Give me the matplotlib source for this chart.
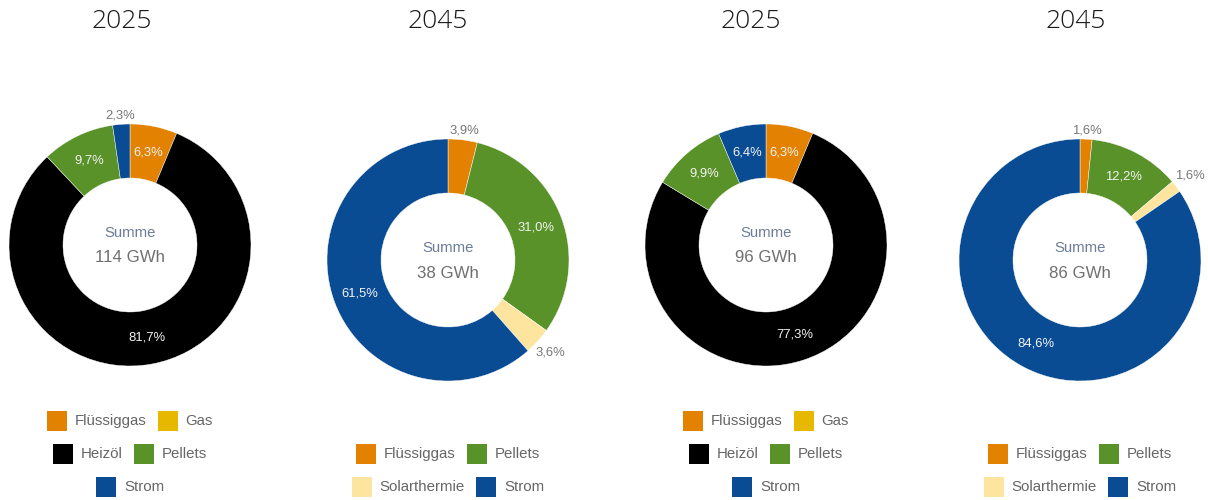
import matplotlib
matplotlib.use("Agg")
import matplotlib.pyplot as plt
from matplotlib.patches import Rectangle
import numpy as np

W, H = 1208, 500

# ---- data -------------------------------------------------------------
titles = ["2025", "2045", "2025", "2045"]
totals_gwh = [114, 38, 96, 86]

cats_today = ["Flüssiggas", "Gas", "Heizöl", "Pellets", "Strom"]
cats_future = ["Flüssiggas", "Pellets", "Solarthermie", "Strom"]

share_1 = [6.3, 0.0, 81.7, 9.7, 2.3]      # 2025, left
share_2 = [3.9, 31.0, 3.6, 61.5]          # 2045, left
share_3 = [6.3, 0.0, 77.3, 9.9, 6.4]      # 2025, right
share_4 = [1.6, 12.2, 1.6, 84.6]          # 2045, right

legend_today = [["Flüssiggas", "Gas"], ["Heizöl", "Pellets"], ["Strom"]]
legend_future = [["Flüssiggas", "Pellets"], ["Solarthermie", "Strom"]]

colors = {
    "Flüssiggas": "#E38100",
    "Gas": "#E6B800",
    "Heizöl": "#000000",
    "Pellets": "#5A922A",
    "Strom": "#0A4C94",
    "Solarthermie": "#FDE5A0",
}

charts = [
    (cats_today, share_1, legend_today),
    (cats_future, share_2, legend_future),
    (cats_today, share_3, legend_today),
    (cats_future, share_4, legend_future),
]

# ---- layout (pixel coordinates, y measured from top) -------------------
centers = [(130, 245), (448, 260), (766, 245), (1080, 260)]
title_x = [122, 438, 751, 1076]
r_out, r_in = 121, 67

fig = plt.figure(figsize=(W / 100, H / 100), dpi=100)
ax = fig.add_axes([0, 0, 1, 1])

def Y(y):
    return H - y

label_font = dict(family=["Liberation Sans", "DejaVu Sans"])

for i, (cats, vals, leg_rows) in enumerate(charts):
    cx, cy = centers[i]
    keep = [(c, v) for c, v in zip(cats, vals) if v > 0]
    kc = [c for c, _ in keep]
    kv = [v for _, v in keep]
    ax.pie(kv, center=(cx, Y(cy)), radius=r_out, startangle=90,
           counterclock=False, colors=[colors[c] for c in kc],
           wedgeprops=dict(width=r_out - r_in, edgecolor="white",
                           linewidth=0.3))

    # percentage labels
    total = sum(kv)
    cum = 0.0
    for c, v in keep:
        theta = np.deg2rad((cum + v / 2) / total * 360)
        cum += v
        s, co = np.sin(theta), np.cos(theta)
        txt = f"{v:.1f}".replace(".", ",") + "%"
        if v >= 5:
            r = (r_out + r_in) / 2
            col = "#f2f2f2"
        else:
            r = r_out + 2 + abs(s) * 15 + abs(co) * 6
            col = "#777777"
        ax.text(cx + r * s, Y(cy - r * co), txt, ha="center", va="center",
                fontsize=9.4, color=col, **label_font)

    # centre text
    ax.text(cx, Y(cy - 12), "Summe", ha="center", va="center",
            fontsize=10.7, color="#6B7B98", **label_font)
    ax.text(cx, Y(cy + 13), f"{totals_gwh[i]} GWh", ha="center",
            va="center", fontsize=12.2, color="#707070", **label_font)

    # title
    ax.text(title_x[i], Y(22), titles[i], ha="center", va="center",
            fontsize=19, color="#1a1a1a", fontweight="light",
            family=["Open Sans", "DejaVu Sans"])

fig.canvas.draw()
renderer = fig.canvas.get_renderer()

sq, gap_txt, gap_item = 20, 8, 11
for i, (cats, vals, leg_rows) in enumerate(charts):
    cx, cy = centers[i]
    n = len(leg_rows)
    for j, row in enumerate(leg_rows):
        ry = 487 - 33 * (n - 1 - j)
        texts = []
        widths = []
        for name in row:
            t = ax.text(0, Y(ry), name, ha="left", va="center",
                        fontsize=10.8, color="#666666", **label_font)
            bb = t.get_window_extent(renderer)
            texts.append(t)
            widths.append(bb.width)
        total_w = sum(sq + gap_txt + w for w in widths) + gap_item * (len(row) - 1)
        x = cx - total_w / 2
        for name, t, w in zip(row, texts, widths):
            ax.add_patch(Rectangle((x, Y(ry + sq / 2)), sq, sq,
                                   facecolor=colors[name], edgecolor="none"))
            t.set_x(x + sq + gap_txt)
            x += sq + gap_txt + w + gap_item

ax.set_xlim(0, W)
ax.set_ylim(0, H)
ax.set_aspect("auto")
ax.axis("off")

fig.savefig("out.png", dpi=100, facecolor="white")
